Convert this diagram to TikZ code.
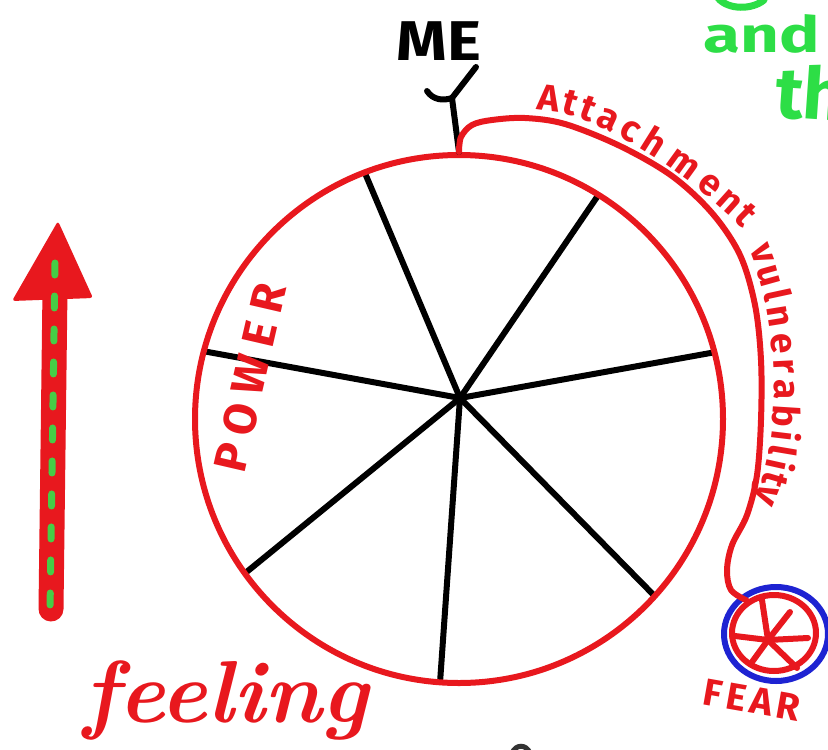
\documentclass[tikz,border=0pt]{standalone}
\usepackage{fontspec}
\newfontfamily\hand{Fira Sans}
\usetikzlibrary{shapes.geometric}
\definecolor{mred}{RGB}{232,24,30}
\definecolor{mblue}{RGB}{30,35,210}
\definecolor{mgreen}{RGB}{45,222,70}
\definecolor{dgreen}{RGB}{70,205,70}
\begin{document}
\begin{tikzpicture}[x=1pt,y=-1pt,
  redline/.style={draw=mred,line width=6pt,line cap=round,line join=round},
  blackpen/.style={draw=black,line width=6pt,line cap=round,line join=round},
  spoke/.style={draw=black,line width=6pt},
  fearspoke/.style={draw=mred,line width=6pt,line cap=round},
  handtext/.style={text=mred,inner sep=0pt},
  arcletter/.style={text=mred,inner sep=0pt,sloped,allow upside down,anchor=base,font=\hand\bfseries\fontsize{37}{37}\selectfont}]
\useasboundingbox (0,0) rectangle (828,750);
\fill[white] (0,0) rectangle (828,750);

% spokes of the big wheel
\coordinate (hub) at (460,398);
\begin{scope}
  \clip (459,419) circle[radius=264];
  \foreach \dx/\dy in {-90/-213, 137/-201, 256/-46, -252/-46, -211/172, -17/242, 173/176}
    \draw[spoke] (hub) -- ++({1.6*\dx},{1.6*\dy});
\end{scope}
\node[circle, draw=mred, line width=6pt, minimum size=528pt, inner sep=0pt] (wheel) at (459,419) {};

% ME
\node[font=\hand\bfseries\fontsize{56}{56}\selectfont, xscale=1.15, inner sep=0pt] (me) at (439,41) {ME};
\coordinate (yj) at (452,98);
\draw[blackpen] (wheel.north) -- (yj);
\draw[blackpen] (476,67) -- (yj);
\draw[blackpen] (427,91) .. controls (433,100) and (443,101) .. (yj);

% fear wheel
\node[ellipse, draw=mblue, line width=6pt, minimum width=104pt, minimum height=94pt, inner sep=0pt] (fearout) at (776,634) {};
\node[ellipse, draw=mred, line width=6pt, minimum width=84pt, minimum height=76pt, inner sep=0pt] (fearin) at (774,633) {};
\coordinate (fhub) at (768,640);
\foreach \ex/\ey in {762/600, 790/612, 808/638, 797/668, 752/662, 735/636}
  \draw[fearspoke] (fhub) -- (\ex,\ey);

% attachment line
\draw[redline] plot[smooth, tension=0.55] coordinates {(wheel.north) (461,137) (472,125) (492,120) (525,118) (565,124) (620,146) (672,176) (712,213) (740,255) (755,305) (761,360) (761,420) (757,475) (747,515) (732,545) (727,570) (731,590) (fearin.130)};

% text along the line
\path (538,110) .. controls (600,112) and (695,180) .. (742,228)
  foreach \p/\c/\i in {0.05/A/1, 0.147/t/2, 0.224/t/3, 0.313/a/4, 0.409/c/5, 0.509/h/6, 0.642/m/7, 0.771/e/8, 0.877/n/9, 0.97/t/10}
  {node[arcletter, pos=\p] (att\i) {\c}};
\path (750,250) .. controls (779,320) and (783,440) .. (755,498)
  foreach \p/\c/\i in {0.035/v/1, 0.127/u/2, 0.204/l/3, 0.281/n/4, 0.376/e/5, 0.459/r/6, 0.541/a/7, 0.635/b/8, 0.712/i/9, 0.768/l/10, 0.824/i/11, 0.887/t/12, 0.965/y/13}
  {node[arcletter, pos=\p] (vul\i) {\c}};

% labels
\node[handtext, rotate=77, font=\hand\bfseries\fontsize{46}{46}\selectfont\addfontfeatures{LetterSpace=22}] (power) at (250,378) {POWER};
\node[handtext, rotate=-10, font=\hand\bfseries\fontsize{38}{38}\selectfont\addfontfeatures{LetterSpace=12}] (fear) at (752,700) {FEAR};
\node[handtext, anchor=base, font=\bfseries\itshape\fontsize{88}{88}\selectfont] (feel) at (226,722) {feeling};

% green text (cut off at the edge)
\node[anchor=base west, text=mgreen, inner sep=0pt, xscale=1.35, font=\hand\bfseries\fontsize{50}{50}\selectfont] (andtxt) at (703,52) {and};
\node[anchor=base west, text=mgreen, inner sep=0pt, rotate=-4, font=\hand\bfseries\fontsize{72}{72}\selectfont] (thtxt) at (774,117) {th};
\draw[draw=mgreen, line width=7pt, line cap=round] (718,-2) .. controls (728,10) and (752,10) .. (764,0);

% arrow
\fill[mred, rounded corners=3pt] (12,301) -- (58,221) -- (93,298) -- cycle;
\draw[mred, line width=25pt, line cap=round] (55,290) -- (51,609);
\draw[dgreen, line width=7pt, line cap=round, dash pattern=on 12pt off 21pt] (55,263) -- (50,612);

% small mark at the bottom edge
\draw[black!80, line width=5pt] (512,753) .. controls (516,744) and (526,744) .. (530,753);
\end{tikzpicture}
\end{document}
